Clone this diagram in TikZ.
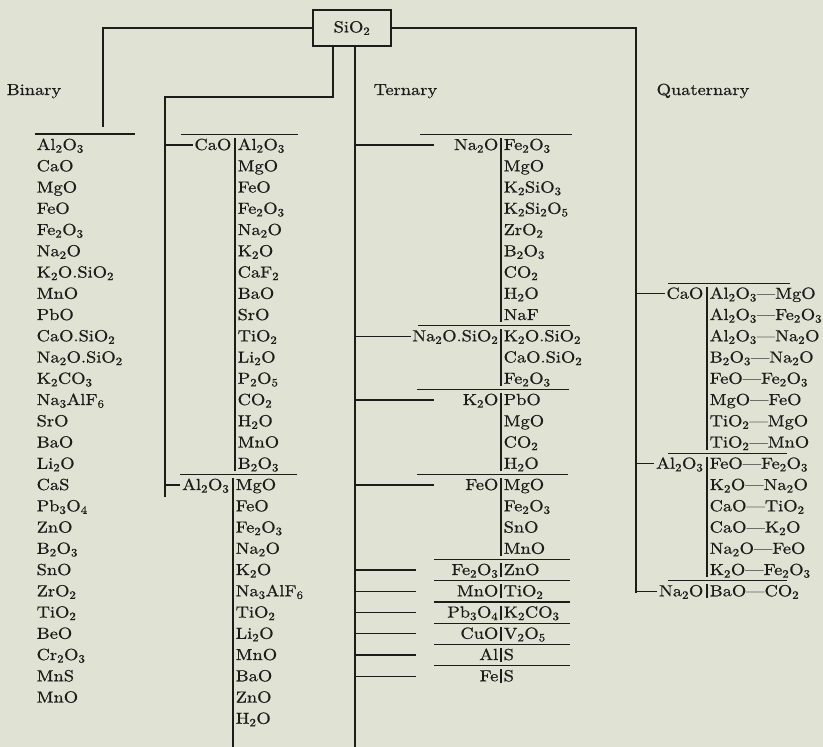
\documentclass[tikz,border=0pt]{standalone}
\usepackage{fontspec}
\setmainfont{lmroman10-regular.otf}[FakeStretch=1.15, FakeBold=0.7]
\usetikzlibrary{positioning, calc}

\definecolor{paper}{RGB}{224,227,211}
\definecolor{ink}{RGB}{28,28,26}

\newcommand{\dn}[1]{\textsubscript{#1}}
\newcommand{\rowy}[1]{145+21.25*(#1)}

\tikzset{
    oxide/.style={anchor=west, inner sep=1pt, text height=11pt, text depth=1pt},
    base/.style={anchor=east, inner sep=1pt, text height=11pt, text depth=1pt},
    heading/.style={anchor=west, inner sep=0pt, text height=11pt, text depth=1pt}
}

\begin{document}
\begin{tikzpicture}[x=1pt, y=-1pt, font=\fontsize{16}{19}\selectfont,
    color=ink, line width=1.4pt]

% paper
\fill[paper] (0,0) rectangle (823,747);
\useasboundingbox (0,0) rectangle (823,747);

% silica and the trunk lines
\node[draw, minimum width=78pt, minimum height=36pt, inner sep=0pt] (sio2) at (352,28) {SiO\dn{2}};
\coordinate (bin) at (103,127);
\coordinate (drop) at (333,97);
\coordinate (knee) at (165,97);
\coordinate (ter2) at (165,497);
\coordinate (ter3) at (355,747);
\coordinate (quat) at (636,{\rowy{21}+2});
\coordinate (stubA) at (434,0);
\coordinate (stubB) at (416,0);

\draw (sio2.west) -| (bin);
\draw (sio2.east) -| (quat);
\draw (sio2.south -| drop) -- (drop) -- (knee) -- (ter2);
\draw (sio2.south -| ter3) -- (ter3);

\node[heading] (binary) at (6,90) {Binary};
\node[heading] (ternary) at (373,90) {Ternary};
\node[heading] (quaternary) at (656,90) {Quaternary};

% binary systems
\draw (35,134) -- (135,134);
\foreach \ox [count=\i from 0] in {Al\dn{2}O\dn{3}, CaO, MgO, FeO, Fe\dn{2}O\dn{3}, Na\dn{2}O,
    K\dn{2}O.SiO\dn{2}, MnO, PbO, CaO.SiO\dn{2}, Na\dn{2}O.SiO\dn{2}, K\dn{2}CO\dn{3},
    Na\dn{3}AlF\dn{6}, SrO, BaO, Li\dn{2}O, CaS, Pb\dn{3}O\dn{4}, ZnO, B\dn{2}O\dn{3}, SnO,
    ZrO\dn{2}, TiO\dn{2}, BeO, Cr\dn{2}O\dn{3}, MnS, MnO}
    \node[oxide] (bin-\i) at (35,{\rowy{\i}}) {\ox};

% ternary, CaO and Al2O3
\draw (181,{\rowy{0}-10.5}) -- (298,{\rowy{0}-10.5});
\node[base] (cao) at (233,{\rowy{0}}) {CaO};
\draw (ter2 |- cao) -- (cao.west);
\foreach \ox [count=\i from 0] in {Al\dn{2}O\dn{3}, MgO, FeO, Fe\dn{2}O\dn{3}, Na\dn{2}O, K\dn{2}O,
    CaF\dn{2}, BaO, SrO, TiO\dn{2}, Li\dn{2}O, P\dn{2}O\dn{5}, CO\dn{2}, H\dn{2}O, MnO, B\dn{2}O\dn{3}}
    \node[oxide] (cao-\i) at (236,{\rowy{\i}}) {\ox};
\draw (235,{\rowy{0}-7}) -- (235,{\rowy{15}+7});

\draw (180,{\rowy{16}-10.5}) -- (297,{\rowy{16}-10.5});
\node[base] (al2o3) at (231,{\rowy{16}}) {Al\dn{2}O\dn{3}};
\draw (ter2 |- al2o3) -- (al2o3.west);
\foreach \ox [count=\i from 0] in {MgO, FeO, Fe\dn{2}O\dn{3}, Na\dn{2}O, K\dn{2}O, Na\dn{3}AlF\dn{6},
    TiO\dn{2}, Li\dn{2}O, MnO, BaO, ZnO, H\dn{2}O}
    \node[oxide] (al2o3-\i) at (234,{\rowy{16+\i}}) {\ox};
\draw (233,{\rowy{16}-7}) -- (233,747);

% ternary, alkali and other oxides
\draw (420,{\rowy{0}-10.5}) -- (572,{\rowy{0}-10.5});
\node[base] (na2o) at (500,{\rowy{0}}) {Na\dn{2}O};
\draw (na2o -| ter3) -- (na2o -| stubA);
\foreach \ox [count=\i from 0] in {Fe\dn{2}O\dn{3}, MgO, K\dn{2}SiO\dn{3}, K\dn{2}Si\dn{2}O\dn{5},
    ZrO\dn{2}, B\dn{2}O\dn{3}, CO\dn{2}, H\dn{2}O, NaF}
    \node[oxide] (na2o-\i) at (502,{\rowy{\i}}) {\ox};
\draw (501,{\rowy{0}-7}) -- (501,{\rowy{8}+7});

\draw (418,{\rowy{9}-10.5}) -- (570,{\rowy{9}-10.5});
\node[base] (nasi) at (500,{\rowy{9}}) {Na\dn{2}O.SiO\dn{2}};
\draw (nasi -| ter3) -- (nasi.west);
\foreach \ox [count=\i from 0] in {K\dn{2}O.SiO\dn{2}, CaO.SiO\dn{2}, Fe\dn{2}O\dn{3}}
    \node[oxide] (nasi-\i) at (502,{\rowy{9+\i}}) {\ox};
\draw (501,{\rowy{9}-7}) -- (501,{\rowy{11}+7});

\draw (417,{\rowy{12}-10.5}) -- (569,{\rowy{12}-10.5});
\node[base] (k2o) at (500,{\rowy{12}}) {K\dn{2}O};
\draw (k2o -| ter3) -- (k2o -| stubA);
\foreach \ox [count=\i from 0] in {PbO, MgO, CO\dn{2}, H\dn{2}O}
    \node[oxide] (k2o-\i) at (502,{\rowy{12+\i}}) {\ox};
\draw (501,{\rowy{12}-7}) -- (501,{\rowy{15}+7});

\draw (417,{\rowy{16}-10.5}) -- (568,{\rowy{16}-10.5});
\node[base] (feo) at (500,{\rowy{16}}) {FeO};
\draw (feo -| ter3) -- (feo -| stubA);
\foreach \ox [count=\i from 0] in {MgO, Fe\dn{2}O\dn{3}, SnO, MnO}
    \node[oxide] (feo-\i) at (502,{\rowy{16+\i}}) {\ox};
\draw (501,{\rowy{16}-7}) -- (501,{\rowy{19}+7});

% single pairs
\foreach \lt/\rt/\nm [count=\i from 0] in {Fe\dn{2}O\dn{3}/ZnO/fe2o3, MnO/TiO\dn{2}/mno,
    Pb\dn{3}O\dn{4}/K\dn{2}CO\dn{3}/pb3o4, CuO/V\dn{2}O\dn{5}/cuo, Al/S/al, Fe/S/fe} {
    \draw (434,{\rowy{20+\i}-10.5}) -- (570,{\rowy{20+\i}-10.5});
    \node[base] (\nm) at (500,{\rowy{20+\i}}) {\lt};
    \node[oxide] (\nm-0) at (502,{\rowy{20+\i}}) {\rt};
    \draw (501,{\rowy{20+\i}-7}) -- (501,{\rowy{20+\i}+7});
    \draw (\nm -| ter3) -- (\nm -| stubB);
}

% quaternary
\draw (668,{\rowy{7}-10.5}) -- (790,{\rowy{7}-10.5});
\node[base] (qcao) at (705,{\rowy{7}}) {CaO};
\draw (qcao -| quat) -- (qcao.west);
\foreach \ox [count=\i from 0] in {Al\dn{2}O\dn{3}---MgO, Al\dn{2}O\dn{3}---Fe\dn{2}O\dn{3},
    Al\dn{2}O\dn{3}---Na\dn{2}O, B\dn{2}O\dn{3}---Na\dn{2}O, FeO---Fe\dn{2}O\dn{3}, MgO---FeO,
    TiO\dn{2}---MgO, TiO\dn{2}---MnO}
    \node[oxide] (qcao-\i) at (708,{\rowy{7+\i}}) {\ox};
\draw (707,{\rowy{7}-7}) -- (707,{\rowy{14}+7});

\draw (668,{\rowy{15}-10.5}) -- (787,{\rowy{15}-10.5});
\node[base] (qal) at (705,{\rowy{15}}) {Al\dn{2}O\dn{3}};
\draw (qal -| quat) -- (qal.west);
\foreach \ox [count=\i from 0] in {FeO---Fe\dn{2}O\dn{3}, K\dn{2}O---Na\dn{2}O, CaO---TiO\dn{2},
    CaO---K\dn{2}O, Na\dn{2}O---FeO, K\dn{2}O---Fe\dn{2}O\dn{3}}
    \node[oxide] (qal-\i) at (708,{\rowy{15+\i}}) {\ox};
\draw (707,{\rowy{15}-7}) -- (707,{\rowy{20}+7});

\draw (668,{\rowy{21}-10.5}) -- (787,{\rowy{21}-10.5});
\node[base] (qna) at (705,{\rowy{21}}) {Na\dn{2}O};
\draw (qna -| quat) -- (qna.west);
\node[oxide] (qna-0) at (708,{\rowy{21}}) {BaO---CO\dn{2}};
\draw (707,{\rowy{21}-7}) -- (707,{\rowy{21}+7});

\end{tikzpicture}
\end{document}
